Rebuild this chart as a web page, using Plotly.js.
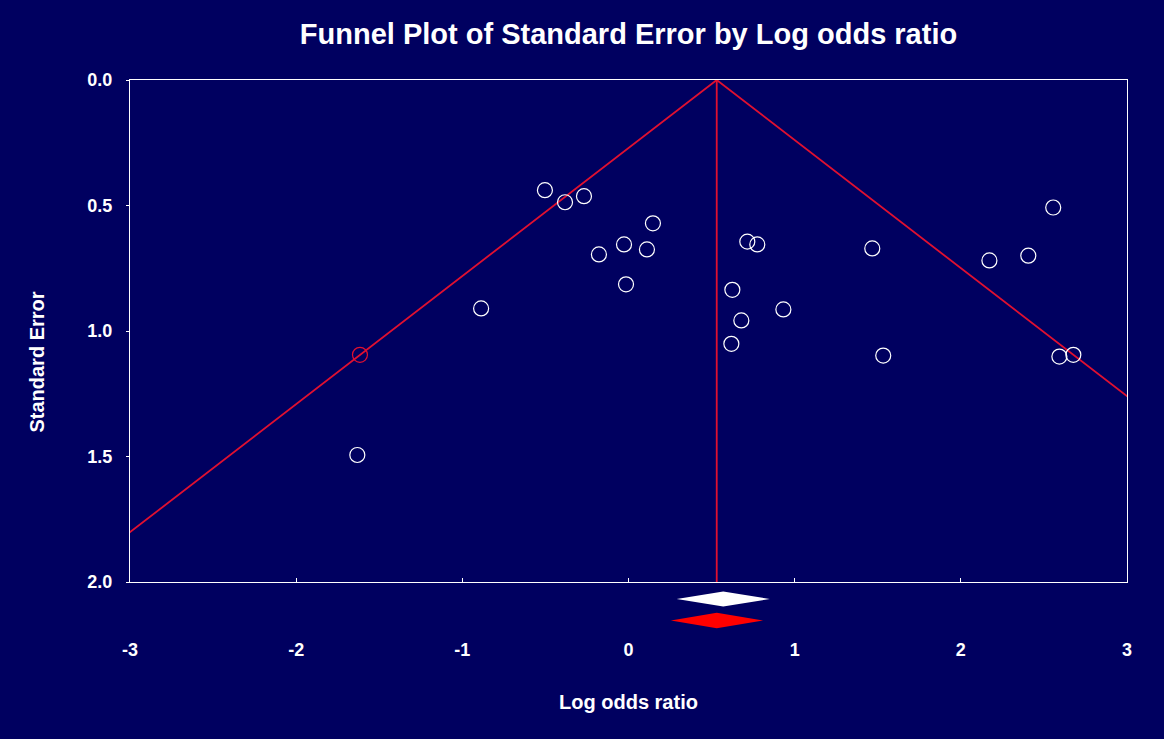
<!DOCTYPE html>
<html>
<head>
<meta charset="utf-8">
<script src="https://cdn.plot.ly/plotly-3.0.1.min.js"></script>
<style>
html,body{margin:0;padding:0;background:#000060;}
#chart{width:1164px;height:739px;}
</style>
</head>
<body>
<div id="chart"></div>
<script>
// Observed studies (log odds ratio, standard error)
const studyLogOR = [-0.503, -0.382, -0.268, 0.147, -0.178, -0.027, 0.111, -0.015, -0.887, -1.632,
                    0.715, 0.775, 0.625, 0.679, 0.619, 0.932, 1.467, 1.533, 2.172, 2.406, 2.556, 2.593, 2.677];
const studySE    = [0.439, 0.487, 0.463, 0.571, 0.695, 0.655, 0.675, 0.814, 0.910, 1.494,
                    0.644, 0.655, 0.836, 0.958, 1.051, 0.914, 0.671, 1.098, 0.719, 0.700, 0.508, 1.102, 1.095];
// Highlighted (red) study
const flaggedLogOR = [-1.616];
const flaggedSE    = [1.095];
// Summary effects: [lower, point, upper]
const observedSummary = [0.29, 0.57, 0.85];
const adjustedSummary = [0.255, 0.531, 0.81];
// Funnel settings
const funnelCentre = 0.531;
const maxSE = 2.0;
const xTicks = [-3, -2, -1, 0, 1, 2, 3];
const yTicks = [0.0, 0.5, 1.0, 1.5, 2.0];

const bg = '#000060';
const red = '#e01030';
const font = 'Liberation Sans, Arial, sans-serif';

const funnel = {
  x: [funnelCentre - 1.96 * maxSE, funnelCentre, funnelCentre + 1.96 * maxSE],
  y: [maxSE, 0, maxSE],
  mode: 'lines', line: {color: red, width: 1.8}, hoverinfo: 'skip', showlegend: false
};
const centreLine = {
  x: [funnelCentre, funnelCentre], y: [0, maxSE],
  mode: 'lines', line: {color: red, width: 1.8}, hoverinfo: 'skip', showlegend: false
};
const studies = {
  x: studyLogOR, y: studySE, mode: 'markers', showlegend: false,
  marker: {symbol: 'circle-open', size: 15, color: '#ffffff', line: {width: 1.2, color: '#ffffff'}}
};
const flagged = {
  x: flaggedLogOR, y: flaggedSE, mode: 'markers', showlegend: false,
  marker: {symbol: 'circle-open', size: 15, color: red, line: {width: 1.2, color: red}}
};

function diamond(summary, yc, hh, color) {
  const [lo, pt, hi] = summary;
  return {
    type: 'path', xref: 'x', yref: 'paper',
    path: `M ${lo},${yc} L ${pt},${yc + hh} L ${hi},${yc} L ${pt},${yc - hh} Z`,
    fillcolor: color, line: {width: 0}, layer: 'above'
  };
}

const layout = {
  width: 1164, height: 739,
  paper_bgcolor: bg, plot_bgcolor: bg,
  margin: {l: 130, r: 37, t: 80, b: 157},
  font: {family: font, color: '#ffffff', size: 18},
  title: {
    text: '<b>Funnel Plot of Standard Error by Log odds ratio</b>',
    font: {family: font, size: 29, color: '#ffffff'},
    x: 0.5, xref: 'paper', y: 1 - 34 / 739, yref: 'container', yanchor: 'middle'
  },
  xaxis: {
    range: [-3, 3], tickvals: xTicks, ticktext: xTicks.map(v => '<b>' + v + '</b>'),
    ticks: 'inside', ticklen: 4, tickcolor: '#ffffff', tickwidth: 1,
    showline: true, linecolor: '#ffffff', linewidth: 1.2, mirror: true,
    showgrid: false, zeroline: false, ticklabelstandoff: 51,
    tickfont: {family: font, size: 18, color: '#ffffff'},
    title: {text: '<b>Log odds ratio</b>', font: {family: font, size: 20, color: '#ffffff'}, standoff: 36}
  },
  yaxis: {
    range: [2, 0], tickvals: yTicks, ticktext: yTicks.map(v => '<b>' + v.toFixed(1) + '</b>'),
    ticks: 'outside', ticklen: 3, tickcolor: '#ffffff', tickwidth: 1,
    showline: true, linecolor: '#ffffff', linewidth: 1.2, mirror: true,
    showgrid: false, zeroline: false, ticklabelstandoff: 10,
    tickfont: {family: font, size: 18, color: '#ffffff'}
  },
  annotations: [{
    text: '<b>Standard Error</b>', textangle: -90, showarrow: false,
    xref: 'paper', yref: 'paper', x: (37 - 130) / 997, y: (581 - 362) / 501,
    xanchor: 'center', yanchor: 'middle',
    font: {family: font, size: 20, color: '#ffffff'}
  }],
  shapes: [
    diamond(observedSummary, -17 / 502, 7.5 / 502, '#ffffff'),
    diamond(adjustedSummary, -38.5 / 502, 7.8 / 502, '#ff0000')
  ]
};

Plotly.newPlot('chart', [funnel, centreLine, studies, flagged], layout, {displayModeBar: false, staticPlot: true});
</script>
</body>
</html>
